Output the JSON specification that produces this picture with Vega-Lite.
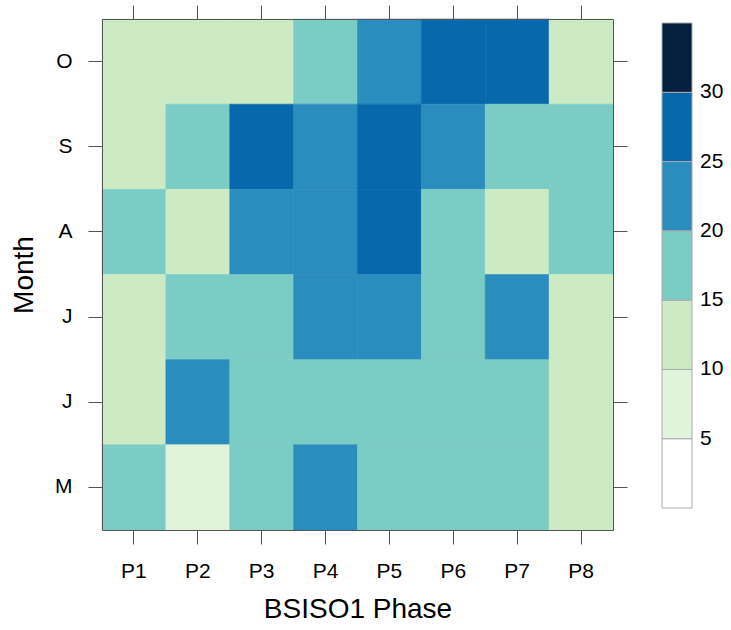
{
  "$schema": "https://vega.github.io/schema/vega-lite/v6.json",
  "width": 511,
  "height": 511,
  "autosize": {"type": "none"},
  "padding": {"left": 102, "top": 19, "right": 118, "bottom": 100},
  "background": "white",
  "config": {
    "font": "Liberation Sans",
    "view": {"stroke": null},
    "legend": {
      "gradientVerticalMaxLength": 485,
      "gradientVerticalMinLength": 485,
      "gradientLength": 485
    },
    "axis": {
      "domainColor": "#555555",
      "tickColor": "#555555",
      "tickSize": 14,
      "labelFont": "Liberation Sans",
      "labelFontSize": 21,
      "labelColor": "#000000",
      "labelPadding": 16,
      "titleFont": "Liberation Sans",
      "titleFontSize": 28,
      "titleFontWeight": "normal",
      "titleColor": "#000000",
      "grid": false
    }
  },
  "data": {
    "values": [
      {"phase": "P1", "month": "O", "value": 12},
      {"phase": "P2", "month": "O", "value": 12},
      {"phase": "P3", "month": "O", "value": 12},
      {"phase": "P4", "month": "O", "value": 17},
      {"phase": "P5", "month": "O", "value": 22},
      {"phase": "P6", "month": "O", "value": 27},
      {"phase": "P7", "month": "O", "value": 27},
      {"phase": "P8", "month": "O", "value": 12},
      {"phase": "P1", "month": "S", "value": 12},
      {"phase": "P2", "month": "S", "value": 17},
      {"phase": "P3", "month": "S", "value": 27},
      {"phase": "P4", "month": "S", "value": 22},
      {"phase": "P5", "month": "S", "value": 27},
      {"phase": "P6", "month": "S", "value": 22},
      {"phase": "P7", "month": "S", "value": 17},
      {"phase": "P8", "month": "S", "value": 17},
      {"phase": "P1", "month": "A", "value": 17},
      {"phase": "P2", "month": "A", "value": 12},
      {"phase": "P3", "month": "A", "value": 22},
      {"phase": "P4", "month": "A", "value": 22},
      {"phase": "P5", "month": "A", "value": 27},
      {"phase": "P6", "month": "A", "value": 17},
      {"phase": "P7", "month": "A", "value": 12},
      {"phase": "P8", "month": "A", "value": 17},
      {"phase": "P1", "month": "Jul", "value": 12},
      {"phase": "P2", "month": "Jul", "value": 17},
      {"phase": "P3", "month": "Jul", "value": 17},
      {"phase": "P4", "month": "Jul", "value": 22},
      {"phase": "P5", "month": "Jul", "value": 22},
      {"phase": "P6", "month": "Jul", "value": 17},
      {"phase": "P7", "month": "Jul", "value": 22},
      {"phase": "P8", "month": "Jul", "value": 12},
      {"phase": "P1", "month": "Jun", "value": 12},
      {"phase": "P2", "month": "Jun", "value": 22},
      {"phase": "P3", "month": "Jun", "value": 17},
      {"phase": "P4", "month": "Jun", "value": 17},
      {"phase": "P5", "month": "Jun", "value": 17},
      {"phase": "P6", "month": "Jun", "value": 17},
      {"phase": "P7", "month": "Jun", "value": 17},
      {"phase": "P8", "month": "Jun", "value": 12},
      {"phase": "P1", "month": "M", "value": 17},
      {"phase": "P2", "month": "M", "value": 7},
      {"phase": "P3", "month": "M", "value": 17},
      {"phase": "P4", "month": "M", "value": 22},
      {"phase": "P5", "month": "M", "value": 17},
      {"phase": "P6", "month": "M", "value": 17},
      {"phase": "P7", "month": "M", "value": 17},
      {"phase": "P8", "month": "M", "value": 12}
    ]
  },
  "layer": [
    {
      "mark": {"type": "rect", "strokeWidth": 0.6},
      "encoding": {
        "x": {
          "field": "phase", "type": "ordinal",
          "sort": ["P1", "P2", "P3", "P4", "P5", "P6", "P7", "P8"],
          "scale": {"paddingInner": 0, "paddingOuter": 0},
          "axis": {"orient": "bottom", "labelAngle": 0, "title": "BSISO1 Phase", "titlePadding": 14}
        },
        "y": {
          "field": "month", "type": "ordinal",
          "sort": ["O", "S", "A", "Jul", "Jun", "M"],
          "scale": {"paddingInner": 0, "paddingOuter": 0},
          "axis": {"orient": "left", "title": "Month", "titlePadding": 16,
                   "labelExpr": "(datum.value == 'Jun' || datum.value == 'Jul') ? 'J' : datum.value"}
        },
        "color": {
          "field": "value", "type": "quantitative",
          "scale": {
            "type": "threshold",
            "domain": [5, 10, 15, 20, 25, 30],
            "range": ["#ffffff", "#e0f3db", "#ccebc5", "#7bccc4", "#2b8cbe", "#0868ac", "#04203f"]
          },
          "legend": {
            "type": "gradient",
            "title": null,
            "orient": "none",
            "direction": "vertical",
            "legendX": 560,
            "legendY": 4,
            "gradientLength": 485,
            "gradientThickness": 30,
            "gradientStrokeColor": "#aaaaaa",
            "gradientStrokeWidth": 1,
            "labelFont": "Liberation Sans",
            "labelFontSize": 21,
            "labelColor": "#000000",
            "labelOffset": 8,
            "labelOverlap": false
          }
        },
        "stroke": {
          "field": "value", "type": "quantitative",
          "scale": {
            "type": "threshold",
            "domain": [5, 10, 15, 20, 25, 30],
            "range": ["#ffffff", "#e0f3db", "#ccebc5", "#7bccc4", "#2b8cbe", "#0868ac", "#04203f"]
          },
          "legend": null
        }
      }
    },
    {
      "mark": {"type": "rect", "opacity": 0},
      "encoding": {
        "x": {
          "field": "phase", "type": "ordinal",
          "sort": ["P1", "P2", "P3", "P4", "P5", "P6", "P7", "P8"],
          "axis": {"orient": "top", "labels": false, "title": null}
        },
        "y": {
          "field": "month", "type": "ordinal",
          "sort": ["O", "S", "A", "Jul", "Jun", "M"],
          "axis": {"orient": "right", "labels": false, "title": null}
        }
      }
    }
  ],
  "resolve": {"axis": {"x": "independent", "y": "independent"}}
}
